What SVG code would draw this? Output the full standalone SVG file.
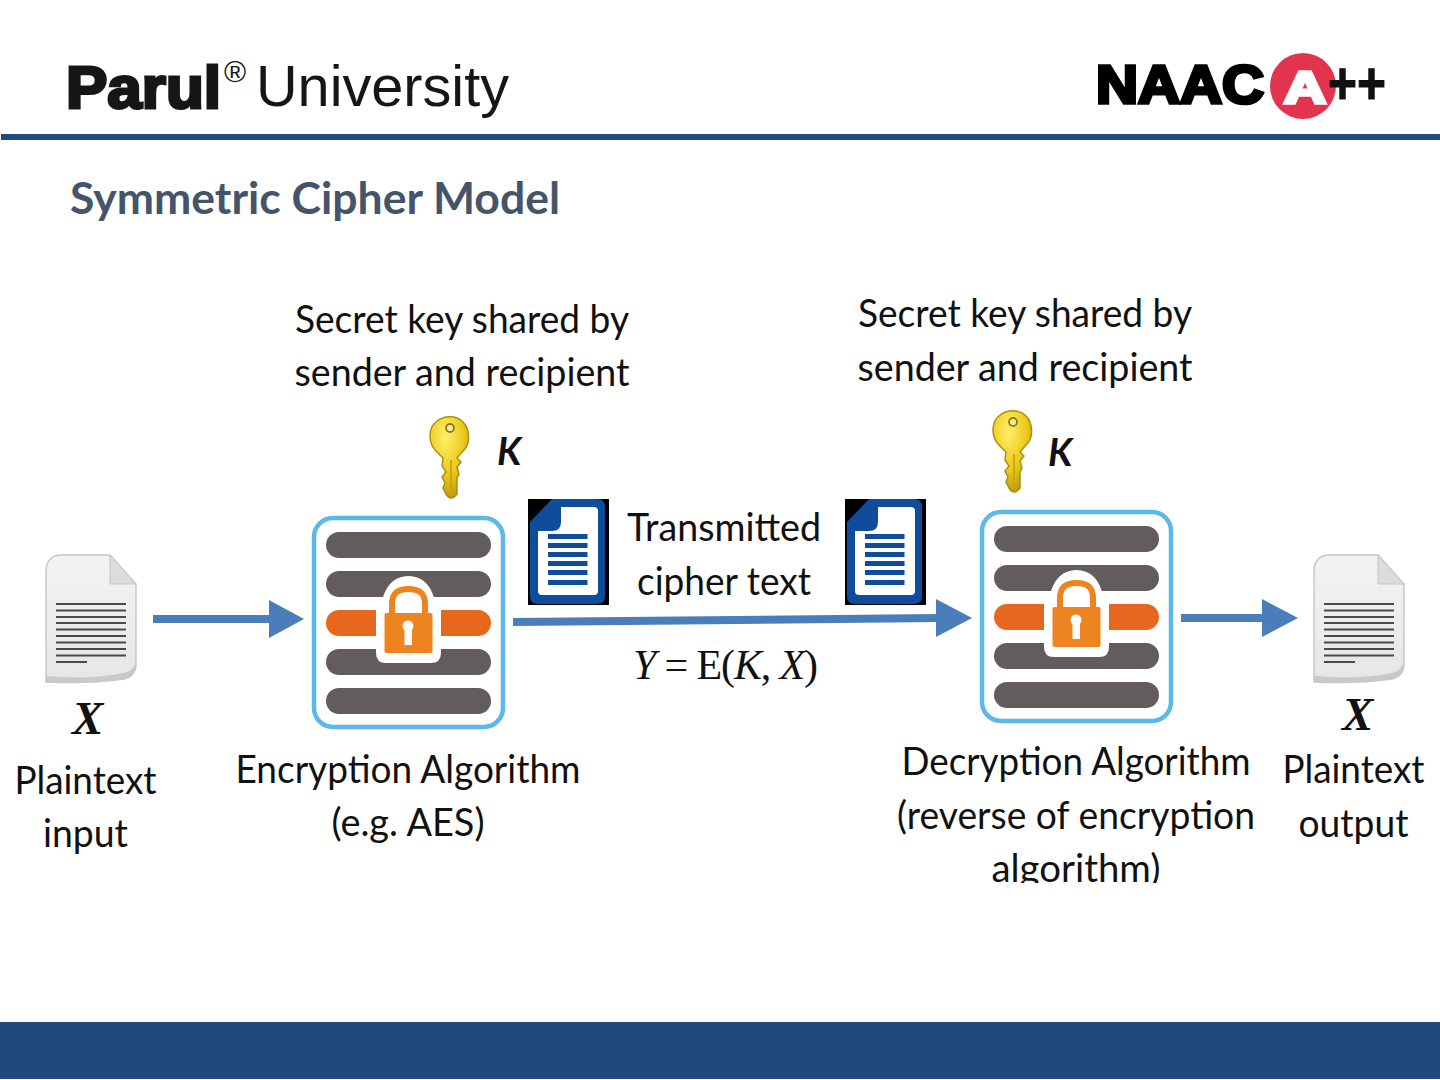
<svg xmlns="http://www.w3.org/2000/svg" width="1440" height="1080" viewBox="0 0 1440 1080">
<style>
.c{font-family:Lato,"Open Sans","Liberation Sans",sans-serif;font-size:39px;fill:#111;text-anchor:middle}
.m{font-family:"Liberation Serif",serif;font-style:italic;fill:#111}
.k{font-family:Lato,"Liberation Sans",sans-serif;font-style:italic;font-weight:700;font-size:38px;fill:#111}
.bar{fill:#625d5c}
.arrow{fill:#4a7ebb}
.ln{stroke:#4a7ebb;stroke-width:8;fill:none}
</style>
<defs>
<linearGradient id="paper" x1="0" y1="0" x2="0" y2="1"><stop offset="0" stop-color="#f3f3f3"/><stop offset="1" stop-color="#e6e6e6"/></linearGradient>
<radialGradient id="gold" cx=".4" cy=".25" r=".85"><stop offset="0" stop-color="#fff06a"/><stop offset=".55" stop-color="#ecc91a"/><stop offset="1" stop-color="#b08f0c"/></radialGradient>
<clipPath id="cut"><rect x="880" y="840" width="400" height="43"/></clipPath>
<g id="cipher">
<rect x="314" y="518" width="189" height="209" rx="19" fill="#fff" stroke="#5cb8e8" stroke-width="4.500"/>
<rect class="bar" x="326" y="532" width="165" height="26" rx="13"/>
<rect class="bar" x="326" y="571" width="165" height="26" rx="13"/>
<rect x="326" y="610" width="165" height="26" rx="13" fill="#e8671f"/>
<rect class="bar" x="326" y="649" width="165" height="26" rx="13"/>
<rect class="bar" x="326" y="688" width="165" height="26" rx="13"/>
<path d="M376 653V610H381C382 590 392 576 408.500 576S435 590 436 610H441V653Q441 663 431 663H386Q376 663 376 653Z" fill="#fff"/>
<path d="M392 613V604C392 593 398 589 408.500 589S425 593 425 604V613" fill="none" stroke="#ee8420" stroke-width="6"/>
<rect x="384.500" y="613" width="48" height="40" rx="2" fill="#ee8420"/>
<circle cx="408" cy="626" r="5.500" fill="#fff"/>
<rect x="404.500" y="628" width="7.500" height="17" fill="#fff"/>
</g>
<g id="key">
<path d="M443 458 436 451C428 443 428 428 436 422C444 415 456 415 463 422C470 429 471 444 463 451L457 458 461 462 457 467 459 474 457 478V494Q451 502 446 494L443 488 445 483 442 477 446 472 442 466Z" fill="url(#gold)" stroke="#b08f0c" stroke-width="1.500"/>
<path d="M451 460V493" stroke="#c9a80e" stroke-width="2"/>
<circle cx="450" cy="428" r="4" fill="#f5e9a0" stroke="#8d7a10" stroke-width="1.800"/>
</g>
<g id="blue">
<rect x="528" y="499" width="81" height="106" fill="#000"/>
<path d="M552 499H597Q605 499 605 507V596Q605 604 597 604H538Q530 604 530 596V522Z" fill="#0f4c9c"/>
<path d="M561 507H594Q598 507 598 511V591Q598 595 594 595H542Q538 595 538 591V531H552Q561 531 561 522Z" fill="#fff"/>
<g fill="#0f4c9c"><rect x="548" y="534" width="39.500" height="5"/><rect x="548" y="543" width="39.500" height="5"/><rect x="548" y="552" width="39.500" height="5"/><rect x="548" y="561" width="39.500" height="5"/><rect x="548" y="570" width="39.500" height="5"/><rect x="548" y="580" width="39.500" height="5"/></g>
</g>
<g id="paperdoc">
<path d="M62 555H110L136 584V664Q136 676 124 679Q90 684 46 682V572Q46 555 62 555Z" fill="url(#paper)" stroke="#c8c8c8" stroke-width="1.500"/>
<path d="M110 555V584H136Z" fill="#dcdcdc" stroke="#c4c4c4"/>
<path d="M46 676Q90 680 124 673Q134 671 136 660V664Q136 676 124 679Q90 684 46 682Z" fill="#c9c9c9"/>
<path d="M56 604H126M56 610.500H126M56 617H126M56 623H126M56 629.500H126M56 636H126M56 642.500H126M56 649H126M56 655.500H126M56 662H87" stroke="#4a4a4a" stroke-width="2"/>
</g>
</defs>

<g id="header">
<text x="66" y="108" font-family="Liberation Sans,sans-serif" font-weight="700" font-size="59" fill="#161616" stroke="#161616" stroke-width="3" textLength="155" lengthAdjust="spacingAndGlyphs">Parul</text>
<text x="224" y="82" font-family="Liberation Sans,sans-serif" font-size="30" fill="#161616">®</text>
<text x="256" y="106" font-family="Liberation Sans,sans-serif" font-size="58" fill="#161616" textLength="253" lengthAdjust="spacingAndGlyphs">University</text>
<text x="1096" y="103" font-family="Liberation Sans,sans-serif" font-weight="700" font-size="54" fill="#000" stroke="#000" stroke-width="3.500" textLength="168" lengthAdjust="spacingAndGlyphs">NAAC</text>
<circle cx="1303" cy="86" r="33" fill="#e2334f"/>
<text x="1284" y="103" font-family="Liberation Sans,sans-serif" font-weight="700" font-size="44" fill="#fff" stroke="#fff" stroke-width="3.500" textLength="42" lengthAdjust="spacingAndGlyphs">A</text>
<text x="1328" y="104" font-family="Liberation Sans,sans-serif" font-weight="700" font-size="60" fill="#111" stroke="#111" textLength="58" lengthAdjust="spacingAndGlyphs">++</text>
<rect x="1" y="134" width="1439" height="6" fill="#204a7e"/>
</g>
<text id="title" x="70" y="214" font-family="Lato,sans-serif" font-weight="700" font-size="43" fill="#44546a" textLength="490" lengthAdjust="spacingAndGlyphs">Symmetric Cipher Model</text>

<g id="connectors">
<path class="ln" d="M153 619H270"/><path class="arrow" d="M269 600 304 619 269 638Z"/>
<path class="ln" d="M513 622 938 618"/><path class="arrow" d="M936 599 972 618 936 637Z"/>
<path class="ln" d="M1181 618H1263"/><path class="arrow" d="M1262 599 1298 618 1262 637Z"/>
</g>

<g id="plaintext-input">
<use href="#paperdoc"/>
<text class="m" x="72" y="734" font-size="47" font-weight="700">X</text>
<text class="c" x="85.500" y="793.500" textLength="142" lengthAdjust="spacingAndGlyphs">Plaintext</text>
<text class="c" x="85.500" y="846.500" textLength="85" lengthAdjust="spacingAndGlyphs">input</text>
</g>

<g id="encryption">
<use href="#cipher"/>
<use href="#key"/>
<text class="k" x="497" y="465">K</text>
<text class="c" x="462" y="332.500" textLength="334" lengthAdjust="spacingAndGlyphs">Secret key shared by</text>
<text class="c" x="462" y="385.500" textLength="335" lengthAdjust="spacingAndGlyphs">sender and recipient</text>
<text class="c" x="408" y="782.500" textLength="345" lengthAdjust="spacingAndGlyphs">Encryption Algorithm</text>
<text class="c" x="408" y="835.500" textLength="153" lengthAdjust="spacingAndGlyphs">(e.g. AES)</text>
</g>

<g id="transmitted">
<use href="#blue"/>
<use href="#blue" x="317"/>
<text class="c" x="724" y="541" textLength="194" lengthAdjust="spacingAndGlyphs">Transmitted</text>
<text class="c" x="724" y="594.500" textLength="174" lengthAdjust="spacingAndGlyphs">cipher text</text>
<text x="633" y="679" font-family="Liberation Serif,serif" font-size="42" fill="#111" textLength="185" lengthAdjust="spacing"><tspan font-style="italic">Y</tspan> = E(<tspan font-style="italic">K</tspan>, <tspan font-style="italic">X</tspan>)</text>
</g>

<g id="decryption">
<use href="#cipher" x="668" y="-6"/>
<use href="#key" x="563" y="-6"/>
<text class="k" x="1048" y="466">K</text>
<text class="c" x="1025" y="326.500" textLength="334" lengthAdjust="spacingAndGlyphs">Secret key shared by</text>
<text class="c" x="1025" y="380.500" textLength="335" lengthAdjust="spacingAndGlyphs">sender and recipient</text>
<text class="c" x="1076" y="775" textLength="349" lengthAdjust="spacingAndGlyphs">Decryption Algorithm</text>
<text class="c" x="1076" y="828.500" textLength="358" lengthAdjust="spacingAndGlyphs">(reverse of encryption</text>
<g clip-path="url(#cut)"><text class="c" x="1076" y="881.500" textLength="169" lengthAdjust="spacingAndGlyphs">algorithm)</text></g>
</g>

<g id="plaintext-output">
<use href="#paperdoc" x="1268"/>
<text class="m" x="1342" y="730" font-size="47" font-weight="700">X</text>
<text class="c" x="1353.500" y="782.500" textLength="142" lengthAdjust="spacingAndGlyphs">Plaintext</text>
<text class="c" x="1353.500" y="836.500" textLength="110" lengthAdjust="spacingAndGlyphs">output</text>
</g>

<rect id="footer" x="0" y="1022" width="1440" height="57" fill="#204a7e"/>
</svg>
